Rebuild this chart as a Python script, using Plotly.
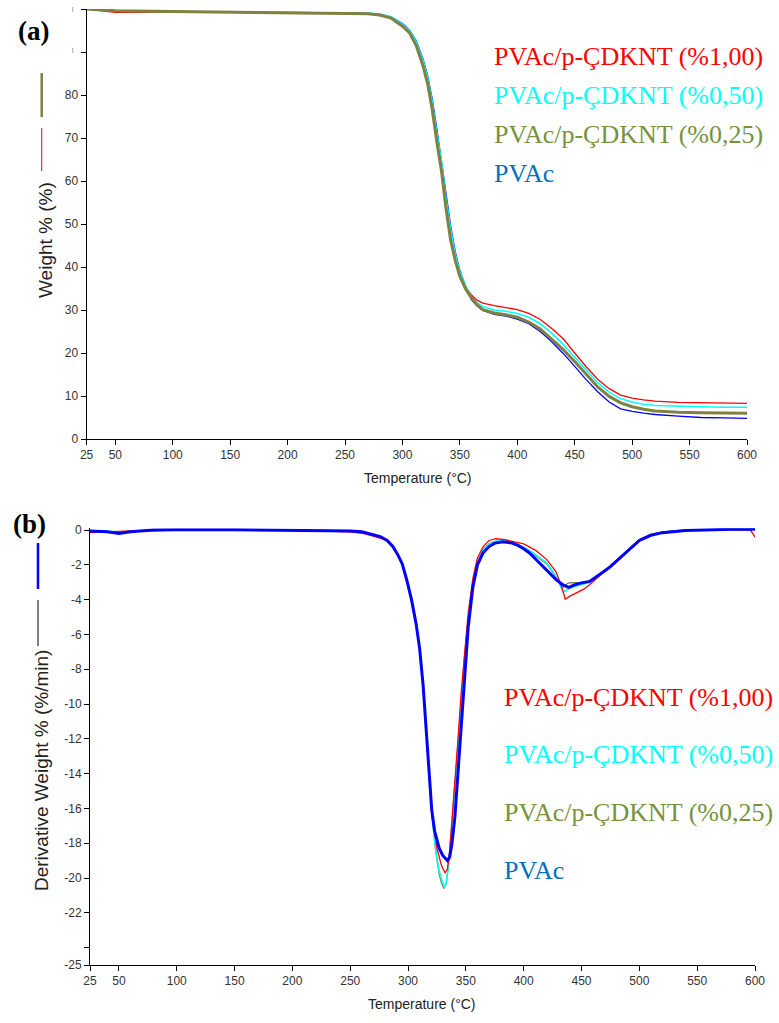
import plotly.graph_objects as go

W, H = 779, 1023

# ---------------- TGA (weight %) ----------------
tga_T = [25, 50, 100, 150, 200, 250, 270, 280, 290, 300, 306, 312, 318, 322, 326,
         330, 334, 338, 342, 346, 350, 355, 360, 365, 370, 380, 390, 400, 410, 420,
         430, 440, 450, 460, 470, 480, 490, 500, 510, 520, 540, 560, 580, 600]

tga_blue_T = [25, 50, 100, 150, 200, 250, 270, 280, 290, 300, 306, 312, 318, 322, 326,
              330, 334, 338, 342, 346, 350, 355, 360, 365, 370, 380, 390, 400, 410, 420,
              430, 440, 450, 460, 470, 480, 490, 500, 510, 520, 540, 560, 580, 600]

w_red = [100, 99.2, 99.3, 99.3, 99.2, 99.1, 98.9, 98.6, 97.9, 96.0, 94.5, 91.5, 86.8, 82.6,
         76.6, 69.2, 62.4, 53.6, 46.6, 41.5, 38.2, 35.4, 33.5, 32.3, 31.6, 31.0, 30.6, 30.1,
         29.2, 27.8, 25.7, 23.3, 20.0, 16.8, 13.9, 11.7, 10.2, 9.5, 9.1, 8.8, 8.5, 8.4, 8.3, 8.3]

w_cyan = [100, 99.6, 99.4, 99.3, 99.3, 99.2, 99.0, 98.8, 98.2, 96.5, 95.1, 92.4, 88.0, 84.0,
          78.4, 71.2, 64.5, 56.0, 48.8, 43.0, 39.0, 35.6, 33.0, 31.7, 30.8, 30.0, 29.7, 29.2,
          28.3, 26.8, 24.6, 22.0, 19.0, 15.9, 13.1, 10.9, 9.4, 8.6, 8.1, 7.8, 7.6, 7.5, 7.4, 7.4]

w_olive = [100, 99.6, 99.4, 99.3, 99.1, 99.0, 98.9, 98.6, 97.9, 96.0, 94.5, 91.5, 86.7, 82.5,
           76.5, 69.0, 62.3, 53.5, 46.2, 41.5, 37.8, 34.9, 32.8, 31.2, 30.1, 29.3, 28.9, 28.3,
           27.2, 25.6, 23.3, 20.8, 18.0, 15.0, 12.1, 9.9, 8.4, 7.5, 6.9, 6.5, 6.2, 6.1, 6.0, 6.0]

w_blue = [100, 99.6, 99.4, 99.3, 99.2, 99.1, 99.0, 98.8, 98.2, 96.6, 95.2, 92.6, 88.3, 84.4,
          79.0, 72.0, 65.0, 57.0, 49.5, 43.5, 39.2, 35.5, 32.4, 30.9, 29.9, 29.0, 28.6, 27.9,
          26.8, 25.0, 22.6, 19.9, 16.9, 13.8, 11.0, 8.6, 7.0, 6.4, 6.0, 5.7, 5.3, 5.0, 4.9, 4.8]

# ---------------- DTG (derivative weight %/min) ----------------
dtg_blue_T = [25, 40, 50, 60, 80, 100, 150, 200, 230, 250, 260, 270, 276, 282, 287, 291, 295,
              299, 303, 307, 310, 313, 316, 318.5, 320.5, 323, 327, 330, 334, 336, 338, 340.5,
              343.5, 346.5, 349.5, 352, 356, 360, 365, 370, 375, 382, 390, 395, 400, 405, 410,
              417, 423, 428, 434, 439, 444, 449, 457, 463, 469, 475, 480, 486, 492, 500, 510,
              520, 540, 560, 580, 600]
dtg_blue = [-0.05, -0.1, -0.2, -0.1, 0.0, 0.02, 0.02, 0.0, -0.02, -0.05, -0.1, -0.25, -0.38,
            -0.6, -0.96, -1.4, -1.95, -2.9, -4.0, -5.4, -6.8, -8.9, -11.6, -14.0, -16.1, -17.3,
            -18.3, -18.7, -19.0, -18.8, -18.0, -16.5, -13.6, -10.7, -7.9, -5.6, -3.3, -2.0, -1.3,
            -0.95, -0.75, -0.67, -0.75, -0.88, -1.08, -1.32, -1.65, -2.1, -2.5, -2.85, -3.15,
            -3.3, -3.15, -3.05, -2.95, -2.7, -2.4, -2.1, -1.8, -1.45, -1.05, -0.6, -0.3, -0.15,
            -0.02, 0.03, 0.05, 0.05]

dtg_red_T = [25, 40, 60, 100, 150, 200, 250, 262, 270, 280, 287, 291, 295, 299, 303, 307, 310,
             313, 316, 318.5, 321, 325, 329, 332, 334, 336, 338, 340.5, 343, 346, 349, 352, 356,
             360, 365, 370, 376, 384, 392, 400, 410, 420, 428, 433, 436, 440, 446, 452, 457, 463,
             469, 475, 480, 486, 492, 500, 510, 520, 540, 560, 580, 596, 600]
dtg_red = [-0.15, -0.1, -0.05, 0.0, 0.0, 0.0, -0.1, -0.2, -0.35, -0.55, -0.95, -1.4, -1.95, -2.9,
           -4.0, -5.4, -6.8, -8.9, -11.6, -14.0, -16.5, -18.3, -19.3, -19.7, -19.5, -18.5, -16.8,
           -14.8, -12.2, -9.3, -6.8, -4.8, -2.8, -1.6, -0.95, -0.6, -0.5, -0.55, -0.68, -0.8,
           -1.15, -1.7, -2.4, -3.3, -3.98, -3.8, -3.6, -3.4, -3.15, -2.8, -2.4, -2.05, -1.75,
           -1.4, -1.0, -0.55, -0.25, -0.1, 0.0, 0.03, 0.03, 0.0, -0.4]

dtg_cyan_T = [25, 50, 100, 150, 200, 250, 270, 282, 287, 291, 295, 299, 303, 307, 310, 313, 316,
              318.5, 321, 324, 327, 329.5, 331.5, 333, 335, 337.5, 340, 343, 346, 349, 352, 356,
              360, 365, 370, 378, 386, 394, 402, 410, 420, 426, 430, 434, 440, 446, 452, 457, 463,
              469, 475, 480, 486, 492, 500, 510, 520, 540, 560, 580, 600]
dtg_cyan = [-0.05, -0.1, 0.0, 0.0, 0.0, -0.05, -0.25, -0.6, -0.96, -1.4, -1.95, -2.9, -4.0, -5.4,
            -6.8, -8.9, -11.6, -14.0, -16.6, -18.4, -19.6, -20.2, -20.55, -20.3, -19.3, -17.4,
            -15.2, -12.5, -9.9, -7.3, -5.2, -3.0, -1.85, -1.15, -0.8, -0.6, -0.65, -0.8, -1.05,
            -1.4, -1.9, -2.45, -2.9, -3.55, -3.35, -3.2, -3.1, -3.0, -2.75, -2.45, -2.1, -1.8,
            -1.45, -1.05, -0.6, -0.3, -0.12, 0.0, 0.03, 0.05, 0.05]

dtg_olive_T = [25, 50, 100, 150, 200, 250, 270, 282, 287, 291, 295, 299, 303, 307, 310, 313, 316,
               318.5, 321, 324, 327, 329, 331, 333, 335, 337.5, 340, 343, 346, 349, 352, 356,
               360, 365, 370, 378, 386, 394, 402, 410, 420, 428, 433, 437, 440, 449, 457, 463,
               469, 475, 480, 486, 492, 500, 510, 520, 540, 560, 580, 600]
dtg_olive = [-0.1, -0.1, 0.0, 0.0, 0.0, -0.05, -0.25, -0.6, -0.96, -1.4, -1.95, -2.9, -4.0, -5.4,
             -6.8, -8.9, -11.6, -14.0, -16.6, -18.5, -19.8, -20.3, -20.6, -20.3, -19.2, -17.2,
             -15.0, -12.3, -9.7, -7.2, -5.1, -2.95, -1.8, -1.1, -0.78, -0.6, -0.66, -0.82, -1.08,
             -1.45, -1.95, -2.7, -3.35, -3.1, -3.03, -3.03, -2.97, -2.72, -2.42, -2.1, -1.8, -1.45,
             -1.05, -0.6, -0.3, -0.12, 0.0, 0.03, 0.05, 0.05]

temp_ticks = [25, 50, 100, 150, 200, 250, 300, 350, 400, 450, 500, 550, 600]
wt_ticks = [0, 10, 20, 30, 40, 50, 60, 70, 80, 90, 100]
wt_ticktext = ["0", "10", "20", "30", "40", "50", "60", "70", "80", "", ""]
dtg_ticks = [0, -2, -4, -6, -8, -10, -12, -14, -16, -18, -20, -22, -24, -25]
dtg_ticktext = ["0", "-2", "-4", "-6", "-8", "-10", "-12", "-14", "-16", "-18", "-20", "-22", "", "-25"]

labels = ["PVAc/p-ÇDKNT (%1,00)", "PVAc/p-ÇDKNT (%0,50)", "PVAc/p-ÇDKNT (%0,25)", "PVAc"]
label_colors = ["#FF0000", "#00FFFF", "#77933C", "#0070C0"]

RED, CYAN, OLIVE, BLUE = "#FF0000", "#00FFFF", "#808040", "#0000FF"


def px(x):
    return x / W


def py(y):
    return 1 - y / H


fig = go.Figure()

# TGA traces (olive drawn last, on top)
fig.add_trace(go.Scatter(x=tga_blue_T, y=w_blue, mode="lines", line=dict(color=BLUE, width=1.3),
                         xaxis="x", yaxis="y", name=labels[3]))
fig.add_trace(go.Scatter(x=tga_T, y=w_red, mode="lines", line=dict(color=RED, width=1.3),
                         xaxis="x", yaxis="y", name=labels[0]))
fig.add_trace(go.Scatter(x=tga_T, y=w_cyan, mode="lines", line=dict(color=CYAN, width=1.6),
                         xaxis="x", yaxis="y", name=labels[1]))
fig.add_trace(go.Scatter(x=tga_T, y=w_olive, mode="lines", line=dict(color=OLIVE, width=3),
                         xaxis="x", yaxis="y", name=labels[2]))

# DTG traces (blue drawn last, on top)
fig.add_trace(go.Scatter(x=dtg_olive_T, y=dtg_olive, mode="lines", line=dict(color=OLIVE, width=1.3),
                         xaxis="x2", yaxis="y2", name=labels[2]))
fig.add_trace(go.Scatter(x=dtg_cyan_T, y=dtg_cyan, mode="lines", line=dict(color=CYAN, width=1.6),
                         xaxis="x2", yaxis="y2", name=labels[1]))
fig.add_trace(go.Scatter(x=dtg_red_T, y=dtg_red, mode="lines", line=dict(color=RED, width=1.3),
                         xaxis="x2", yaxis="y2", name=labels[0]))
fig.add_trace(go.Scatter(x=dtg_blue_T, y=dtg_blue, mode="lines", line=dict(color=BLUE, width=3),
                         xaxis="x2", yaxis="y2", name=labels[3]))

tickfont = dict(family="Liberation Sans, Arial, sans-serif", size=12, color="#333333")
axis_common = dict(showline=True, linecolor="black", linewidth=1, ticks="outside", ticklen=5,
                   tickcolor="black", showgrid=False, zeroline=False, tickfont=tickfont,
                   automargin=False)

fig.update_layout(
    template="none",
    width=W, height=H, autosize=False,
    margin=dict(l=0, r=0, t=0, b=0, pad=0),
    paper_bgcolor="white", plot_bgcolor="white",
    showlegend=False,
    xaxis=dict(domain=[px(86.6), px(747)], range=[25, 600], tickvals=temp_ticks,
               anchor="y", **axis_common),
    yaxis=dict(domain=[py(439), py(9)], range=[0, 100], tickvals=wt_ticks,
               ticktext=wt_ticktext, anchor="x", **axis_common),
    xaxis2=dict(domain=[px(90), px(755)], range=[25, 600], tickvals=temp_ticks,
                anchor="y2", **axis_common),
    yaxis2=dict(domain=[py(965), py(528.3)], range=[-25, 0.1], tickvals=dtg_ticks,
                ticktext=dtg_ticktext, anchor="x2", **axis_common),
)


def note(x, y, text, font, **kw):
    d = dict(x=px(x), y=py(y), text=text, showarrow=False, xref="paper", yref="paper",
             xanchor="center", yanchor="middle", font=font)
    d.update(kw)
    return d


sans = "Liberation Sans, Arial, sans-serif"
serif = "Liberation Serif, Times New Roman, serif"

ann = [
    note(418, 478, "Temperature (°C)", dict(family=sans, size=14, color="#222222")),
    note(422, 1004, "Temperature (°C)", dict(family=sans, size=14, color="#222222")),
    note(45, 240, "Weight % (%)", dict(family=sans, size=19, color="#222222"), textangle=-90),
    note(41, 771, "Derivative Weight % (%/min)", dict(family=sans, size=19, color="#222222"),
         textangle=-90),
    note(33, 31, "<b>(a)</b>", dict(family=serif, size=27, color="black")),
    note(29, 524, "<b>(b)</b>", dict(family=serif, size=27, color="black")),
]

for i, (lab, col) in enumerate(zip(labels, label_colors)):
    ann.append(note(492, 57 + 38.8 * i, lab, dict(family=serif, size=26, color=col), xanchor="left"))
    ann.append(note(502, 697 + 57.7 * i, lab, dict(family=serif, size=26, color=col), xanchor="left"))
fig.update_layout(annotations=ann)

# small leftover legend swatches beside the axis titles
shapes = [
    dict(type="line", xref="paper", yref="paper", x0=px(41.7), x1=px(41.7), y0=py(73), y1=py(117),
         line=dict(color=OLIVE, width=2.5)),
    dict(type="line", xref="paper", yref="paper", x0=px(41.7), x1=px(41.7), y0=py(128), y1=py(171),
         line=dict(color=RED, width=1)),
    dict(type="line", xref="paper", yref="paper", x0=px(72.7), x1=px(72.7), y0=py(7), y1=py(12),
         line=dict(color="#AAAAAA", width=1)),
    dict(type="line", xref="paper", yref="paper", x0=px(72.7), x1=px(72.7), y0=py(48), y1=py(53),
         line=dict(color="#AAAAAA", width=1)),
    dict(type="line", xref="paper", yref="paper", x0=px(38), x1=px(38), y0=py(543), y1=py(589),
         line=dict(color=BLUE, width=2.5)),
    dict(type="line", xref="paper", yref="paper", x0=px(38), x1=px(38), y0=py(600), y1=py(646),
         line=dict(color="black", width=1)),
]
fig.update_layout(shapes=shapes)

fig.write_html("out.html", post_script="document.body.style.margin='0';")
